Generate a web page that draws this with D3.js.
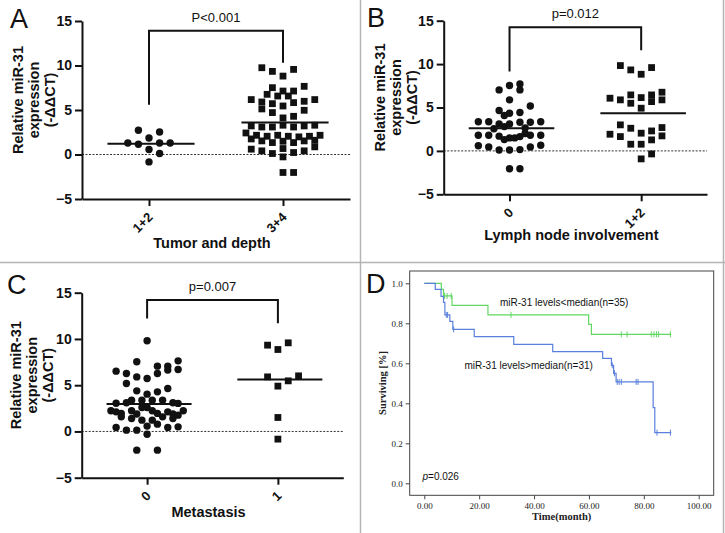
<!DOCTYPE html>
<html><head><meta charset="utf-8">
<script src="https://cdn.jsdelivr.net/npm/d3@7"></script>
<style>body{margin:0;background:#fff}svg{display:block}</style>
</head><body>
<svg id="c" width="725" height="533"></svg>
<script>
// ---------------- DATA ----------------
const yTicks = [-5, 0, 5, 10, 15];

// Panel A: Tumor and depth
const aCategories = ["1+2", "3+4"];
const aGroup1Values = [2.72, 2.53, 1.86, 1.30, 1.15, 1.30, 1.30, 0.56, 0.11, -0.83];
const aGroup1Slots  = [-1, 1, 0, -2, -1, 1, 2, 0, 1, 0];
const aGroup2Values = [9.75, 9.34, 8.81, 9.56, 7.51, 7.66, 7.13, 7.13, 6.76, 6.57, 6.57, 6.17, 5.90, 5.71, 5.83, 5.98, 6.17,
  5.12, 5.45, 4.71, 4.97, 4.11, 4.29, 3.21, 3.09, 3.09, 3.29, 3.09, 3.21, 3.29,
  2.42, 2.16, 2.05, 2.16, 2.05, 1.98, 2.05, 2.16, 1.75, 1.53, 1.34, 1.49, 1.34, 1.53, 1.60,
  0.60, 0.41, 0.11, 0.67, 0.22, 0.41, 0.86, -0.27, -2.02, -2.02];
const aGroup2Slots  = [-2, -1, 0, 1, -1, 2, 0, 1, -1.5, -0.5, 0.5, -3, -2, -1, 1, 2, 3,
  -2, 0, -1, 2, 0, 1, -3, -2, -1, 0, 1, 2, 3,
  -3.5, -2.5, -1.5, -0.5, 0.5, 1.5, 2.5, 3.5, -3, -2, -1, 0, 1, 2, 3,
  -3, -2, -1, 0, 1, 2, 3, 0, 0, 1];
const aMeans = [1.2, 3.6];
const aBracket = [13.9, 5.6, 10.3];   // top, left leg end, right leg end (data units)
const aLabel = "P<0.001";

// Panel B: Lymph node involvement
const bCategories = ["0", "1+2"];
const bGroup1Values = [7.03, 7.53, 7.72, 7.03, 5.88, 5.18, 4.65, 4.07, 4.34, 4.42,
  3.35, 3.35, 3.10, 3.10, 3.30, 3.30, 3.35, 2.55, 2.65, 2.80,
  1.80, 1.80, 1.70, 1.30, 1.50, 1.50, 1.65, 2.00, 1.80, 1.80,
  0.60, 0.45, 0.10, 0.10, 0.15, 0.45, 0.65, -2.05, -2.05];
const bGroup1Slots  = [-1, 0, 1, 1, 0, 2, -1, -0.5, 0, 1,
  -3, -2, -1, 0, 1, 2, 3, -1.5, 1.5, -0.5,
  -3, -2, -1, -0.5, 0, 0.5, 1, 1.5, 2, 3,
  -3, -2, -1, 0, 1, 2, 3, 0, 1];
const bGroup2Values = [9.83, 9.33, 8.83, 9.60, 6.07, 5.88, 6.45, 5.49, 6.14, 4.92, 6.45, 5.68, 6.76, 5.88,
  3.00, 1.92, 2.61, 1.65, 2.04, 2.30, 2.69, 1.73, 0.77, 0.77, 1.27, -0.92, -0.35];
const bGroup2Slots  = [-2, -1, 0, 1, -3, -2, -1, -1, 0, 0, 1, 1, 2, 2,
  -2, -3, -1, -2, 0, 1, 2, 2, -1, 0, 1, 0, 1];
const bMeans = [2.61, 4.34];
const bBracket = [14.25, 9.14, 11.6];
const bLabel = "p=0.012";

// Panel C: Metastasis
const cCategories = ["0", "1"];
const cGroup1Values = [9.80, 7.53, 7.06, 7.06, 7.63, 6.52, 6.27, 5.90, 5.73, 6.27, 6.63, 6.70,
  5.19, 4.39, 4.03, 4.28, 4.65,
  3.05, 3.10, 3.38, 3.38, 3.38, 3.38, 3.10, 3.03,
  2.23, 2.12, 1.95, 2.23, 1.88, 2.59, 2.59, 2.23, 1.95, 2.12, 1.88, 1.76, 2.23,
  1.58, 1.40, 1.22, 1.22, 1.58, 1.40,
  0.43, 0.14, 0.14, 0.58, 0.79, 0.43, 0.50, -0.30, -2.02, -2.02];
const cGroup1Slots  = [0, -1, 1, 2, 3, -3, -2, -1, 0, 1, 2, 3,
  -2, -1, 0, 1, 2,
  -3, -2, -1.5, -0.5, 0.5, 1.5, 2.5, 3,
  -3.5, -3, -2.5, -1.5, -1, -0.5, 0, 0.5, 1, 2, 2.5, 3, 3.5,
  -2.5, -1.5, -0.5, 0.5, 1.5, 2.5,
  -3, -2, -1, 0, 1, 2, 3, 0, -1, 1];
const cGroup2Values = [9.33, 8.86, 9.58, 5.90, 4.90, 5.47, 6.01, 1.51, -0.83];
const cGroup2Slots  = [-1, 0, 1, -1, 0, 1, 2, 0, 0];
const cMeans = [2.98, 5.62];
const cBracket = [14.2, 12.2, 11.7];
const cLabel = "p=0.007";

// Panel D: Kaplan-Meier
const dXTicks = [0, 20, 40, 60, 80, 100];
const dYTicks = [0, 0.2, 0.4, 0.6, 0.8, 1.0];
const lowSteps = [[0,1],[6.2,0.97],[7.0,0.937],[10.1,0.89],[23.2,0.842],[59.9,0.795],[60.9,0.745],[90,0.745]];
const lowCensored = [[7.4,0.937],[8.3,0.937],[9.8,0.937],[31.6,0.842],[71.8,0.745],[73.9,0.745],[82.7,0.745],[83.7,0.745],[84.6,0.745],[85.4,0.745],[89.7,0.745]];
const highSteps = [[0,1],[4.0,0.97],[6.1,0.935],[7.0,0.905],[7.5,0.842],[9.3,0.81],[10.4,0.77],[18.2,0.733],[32.6,0.695],[46.8,0.658],[65.0,0.625],[68.2,0.59],[69.0,0.55],[69.9,0.507],[83.4,0.378],[84.0,0.253],[90,0.253]];
const highCensored = [[8.0,0.842],[8.5,0.842],[10.7,0.77],[68.5,0.59],[69.3,0.55],[70.3,0.507],[71.0,0.507],[71.8,0.507],[77.2,0.507],[77.9,0.507],[84.8,0.253],[89.7,0.253]];
const lowLabel = "miR-31 levels<median(n=35)";
const highLabel = "miR-31 levels>median(n=31)";

// ---------------- DRAW ----------------
const svg = d3.select("#c");
const SANS = "'Liberation Sans', Arial, sans-serif";
const SERIF = "'Liberation Serif', 'Times New Roman', serif";

// panel separators / border
const sepColor = "#b5b5b5";
svg.append("line").attr("x1", 360.5).attr("x2", 360.5).attr("y1", 0).attr("y2", 533).attr("stroke", sepColor).attr("stroke-width", 1.5);
svg.append("line").attr("x1", 0).attr("x2", 725).attr("y1", 262.5).attr("y2", 262.5).attr("stroke", sepColor).attr("stroke-width", 1.5);
svg.append("line").attr("x1", 723.5).attr("x2", 723.5).attr("y1", 0).attr("y2", 533).attr("stroke", sepColor).attr("stroke-width", 1.5);

function dotPanel(cfg) {
  const g = svg.append("g");
  const x = d3.scalePoint().domain(cfg.cats).range([cfg.x0, cfg.x1]).padding(0.5);
  const y = d3.scaleLinear().domain([-5, 15]).range([cfg.yb, cfg.yt]);
  const slotW = x.step() * 0.079;

  // zero dotted line
  g.append("line").attr("x1", cfg.x0).attr("x2", cfg.x1).attr("y1", y(0)).attr("y2", y(0))
    .attr("stroke", "#333").attr("stroke-width", 1).attr("stroke-dasharray", "2,1.5");

  // y axis
  const ya = g.append("g").attr("transform", `translate(${cfg.x0},0)`)
    .call(d3.axisLeft(y).tickValues(yTicks).tickSize(7).tickSizeOuter(0).tickPadding(3).tickFormat(d3.format("d")));
  ya.select(".domain").attr("stroke", "#111").attr("stroke-width", 2);
  ya.selectAll(".tick line").attr("stroke", "#111").attr("stroke-width", 2);
  ya.selectAll(".tick text").attr("font-family", SANS).attr("font-size", 14).attr("font-weight", "bold").attr("fill", "#111");

  // x axis
  const xa = g.append("g").attr("transform", `translate(0,${cfg.yb})`)
    .call(d3.axisBottom(x).tickSize(7).tickSizeOuter(0));
  xa.select(".domain").attr("stroke", "#111").attr("stroke-width", 2);
  xa.selectAll(".tick line").attr("stroke", "#111").attr("stroke-width", 2);
  xa.selectAll(".tick text").attr("font-family", SANS).attr("font-size", 13).attr("font-weight", "bold").attr("fill", "#111")
    .attr("text-anchor", "end").attr("dy", null).attr("y", 0)
    .attr("transform", "translate(4,19) rotate(-45)");

  // y title
  const yt = g.append("text").attr("font-family", SANS).attr("font-size", 14.5).attr("font-weight", "bold").attr("fill", "#111")
    .attr("text-anchor", "middle")
    .attr("transform", `translate(${cfg.titleX},${(cfg.yt + cfg.yb) / 2 - 10}) rotate(-90)`);
  ["Relative miR-31", "expression", "(-ΔΔCT)"].forEach((t, i) => {
    yt.append("tspan").attr("x", 0).attr("y", i * 15.8).text(t);
  });

  // x title
  g.append("text").attr("x", (cfg.x0 + cfg.x1) / 2 - 4).attr("y", cfg.xTitleY)
    .attr("font-family", SANS).attr("font-size", 14.5).attr("font-weight", "bold").attr("fill", "#111")
    .attr("text-anchor", "middle").text(cfg.xTitle);

  // panel letter
  g.append("text").attr("x", cfg.letterX).attr("y", cfg.letterY).attr("font-family", SANS).attr("font-size", 27)
    .attr("fill", "#111").text(cfg.letter);

  // points
  cfg.groups.forEach((grp, gi) => {
    const cx = x(cfg.cats[gi]);
    const pts = grp.values.map((v, i) => ({ v, s: grp.slots[i] }));
    if (grp.shape === "circle") {
      g.selectAll(null).data(pts).enter().append("circle")
        .attr("cx", d => cx + d.s * slotW).attr("cy", d => y(d.v)).attr("r", 3.7).attr("fill", "#111");
    } else {
      const sz = 6.8;
      g.selectAll(null).data(pts).enter().append("rect")
        .attr("x", d => cx + d.s * slotW - sz / 2).attr("y", d => y(d.v) - sz / 2)
        .attr("width", sz).attr("height", sz).attr("fill", "#111");
    }
    // mean line
    g.append("line").attr("x1", cx - x.step() * 0.31).attr("x2", cx + x.step() * 0.34)
      .attr("y1", y(cfg.means[gi])).attr("y2", y(cfg.means[gi])).attr("stroke", "#111").attr("stroke-width", 2);
  });

  // significance bracket
  const [top, l, r] = cfg.bracket;
  const x1 = x(cfg.cats[0]), x2 = x(cfg.cats[1]);
  g.append("path").attr("d", `M${x1},${y(l)}V${y(top)}H${x2}V${y(r)}`)
    .attr("fill", "none").attr("stroke", "#111").attr("stroke-width", 2);
  g.append("text").attr("x", (x1 + x2) / 2).attr("y", y(top) - 9).attr("font-family", SANS).attr("font-size", 13)
    .attr("fill", "#111").attr("text-anchor", "middle").text(cfg.label);
}

dotPanel({
  cats: aCategories, x0: 82, x1: 350, yt: 21, yb: 199, titleX: 23, xTitle: "Tumor and depth", xTitleY: 248,
  letter: "A", letterX: 10, letterY: 28, means: aMeans, bracket: aBracket, label: aLabel,
  groups: [{ values: aGroup1Values, slots: aGroup1Slots, shape: "circle" },
           { values: aGroup2Values, slots: aGroup2Slots, shape: "square" }]
});
dotPanel({
  cats: bCategories, x0: 443.7, x1: 707, yt: 20.7, yb: 194.3, titleX: 385, xTitle: "Lymph node involvement", xTitleY: 240,
  letter: "B", letterX: 367, letterY: 27, means: bMeans, bracket: bBracket, label: bLabel,
  groups: [{ values: bGroup1Values, slots: bGroup1Slots, shape: "circle" },
           { values: bGroup2Values, slots: bGroup2Slots, shape: "square" }]
});
dotPanel({
  cats: cCategories, x0: 81.7, x1: 343.3, yt: 292.7, yb: 477.7, titleX: 21, xTitle: "Metastasis", xTitleY: 517,
  letter: "C", letterX: 7, letterY: 294, means: cMeans, bracket: cBracket, label: cLabel,
  groups: [{ values: cGroup1Values, slots: cGroup1Slots, shape: "circle" },
           { values: cGroup2Values, slots: cGroup2Slots, shape: "square" }]
});

// ---- Panel D ----
(function () {
  const g = svg.append("g");
  const fx0 = 409.7, fx1 = 713.7, fy0 = 271, fy1 = 495.3;
  const x = d3.scaleLinear().domain([0, 100]).range([424.3, 698.7]);
  const y = d3.scaleLinear().domain([0, 1]).range([483.3, 283.3]);

  g.append("rect").attr("x", fx0).attr("y", fy0).attr("width", fx1 - fx0).attr("height", fy1 - fy0)
    .attr("fill", "none").attr("stroke", "#444").attr("stroke-width", 1);

  const xa = g.append("g").attr("transform", `translate(0,${fy1})`)
    .call(d3.axisBottom(x).tickValues(dXTicks).tickSize(4).tickSizeOuter(0).tickFormat(d3.format(".2f")));
  xa.select(".domain").remove();
  xa.selectAll(".tick line").attr("stroke", "#444");
  xa.selectAll(".tick text").attr("font-family", SERIF).attr("font-size", 9).attr("fill", "#222");

  const ya = g.append("g").attr("transform", `translate(${fx0},0)`)
    .call(d3.axisLeft(y).tickValues(dYTicks).tickSize(4).tickSizeOuter(0).tickFormat(d3.format(".1f")));
  ya.select(".domain").remove();
  ya.selectAll(".tick line").attr("stroke", "#444");
  ya.selectAll(".tick text").attr("font-family", SERIF).attr("font-size", 9).attr("fill", "#222");

  g.append("text").attr("x", (fx0 + fx1) / 2).attr("y", 520).attr("font-family", SERIF).attr("font-size", 10.5)
    .attr("font-weight", "bold").attr("fill", "#222").attr("text-anchor", "middle").text("Time(month)");
  g.append("text").attr("transform", `translate(386,383) rotate(-90)`).attr("font-family", SERIF).attr("font-size", 10.5)
    .attr("font-weight", "bold").attr("fill", "#222").attr("text-anchor", "middle").text("Surviving [%]");

  g.append("text").attr("x", 366).attr("y", 293).attr("font-family", SANS).attr("font-size", 27)
    .attr("fill", "#111").text("D");

  const line = d3.line().x(d => x(d[0])).y(d => y(d[1])).curve(d3.curveStepAfter);
  const series = [
    { steps: lowSteps, cens: lowCensored, color: "#62d862" },
    { steps: highSteps, cens: highCensored, color: "#5a7fdc" }
  ];
  series.forEach(s => {
    g.append("path").attr("d", line(s.steps)).attr("fill", "none").attr("stroke", s.color).attr("stroke-width", 1.2);
    g.selectAll(null).data(s.cens).enter().append("line")
      .attr("x1", d => x(d[0])).attr("x2", d => x(d[0]))
      .attr("y1", d => y(d[1]) - 3).attr("y2", d => y(d[1]) + 3)
      .attr("stroke", s.color).attr("stroke-width", 1);
  });

  g.append("text").attr("x", 500).attr("y", 306).attr("font-family", SANS).attr("font-size", 10)
    .attr("fill", "#111").text(lowLabel);
  g.append("text").attr("x", 464.5).attr("y", 368.5).attr("font-family", SANS).attr("font-size", 10)
    .attr("fill", "#111").text(highLabel);

  const pt = g.append("text").attr("x", 422.5).attr("y", 480).attr("font-family", SANS).attr("font-size", 10).attr("fill", "#111");
  pt.append("tspan").attr("font-style", "italic").text("p");
  pt.append("tspan").text("=0.026");
})();
</script>
</body></html>
